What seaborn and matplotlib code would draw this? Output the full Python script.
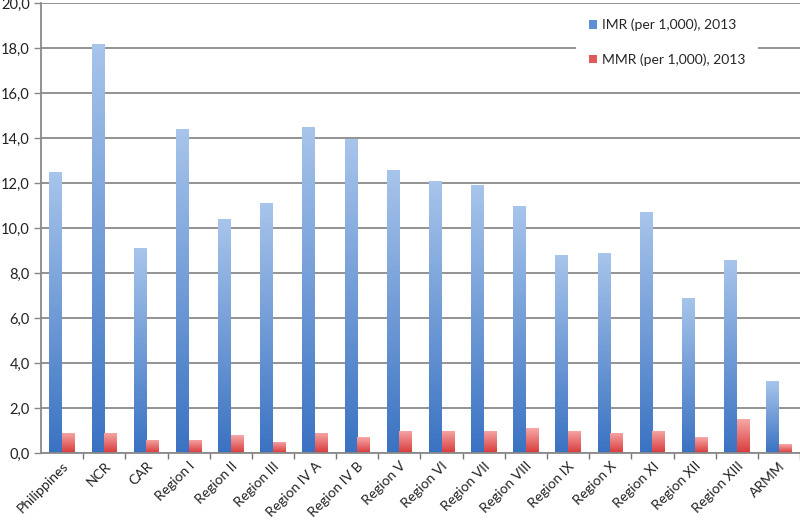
import numpy as np
import pandas as pd
import matplotlib
matplotlib.use("Agg")
import matplotlib.pyplot as plt
import seaborn as sns
from matplotlib.patches import Patch
from matplotlib.colors import LinearSegmentedColormap

regions = ["Philippines", "NCR", "CAR", "Region I", "Region II", "Region III",
           "Region IV A", "Region IV B", "Region V", "Region VI", "Region VII",
           "Region VIII", "Region IX", "Region X", "Region XI", "Region XII",
           "Region XIII", "ARMM"]
imr = [12.5, 18.2, 9.1, 14.4, 10.4, 11.1, 14.5, 13.95, 12.6, 12.1, 11.9,
       11.0, 8.8, 8.9, 10.7, 6.9, 8.6, 3.2]
mmr = [0.9, 0.9, 0.6, 0.6, 0.8, 0.5, 0.9, 0.7, 1.0, 1.0, 1.0,
       1.1, 1.0, 0.9, 1.0, 0.7, 1.5, 0.4]
series = ["IMR (per 1,000), 2013", "MMR (per 1,000), 2013"]
yticks = [0, 2, 4, 6, 8, 10, 12, 14, 16, 18, 20]

df = pd.DataFrame({
    "region": regions * 2,
    "value": imr + mmr,
    "series": [series[0]] * len(regions) + [series[1]] * len(regions),
})

sns.set_style("white")
plt.rcParams["font.family"] = ["Lato", "DejaVu Sans"]

fig = plt.figure(figsize=(8.0, 5.23), dpi=100)
ax = fig.add_axes([41 / 800, 1 - 453 / 523, 759 / 800, 450 / 523])

blue_mid = "#5B8FD6"
red_mid = "#E86A6A"
sns.barplot(data=df, x="region", y="value", hue="series",
            palette=[blue_mid, red_mid], width=0.6, ax=ax, legend=False,
            saturation=1, edgecolor="none")

cmaps = {
    0: LinearSegmentedColormap.from_list("b", ["#3A72C2", "#A8C5EB"]),
    1: LinearSegmentedColormap.from_list("r", ["#D83A3A", "#F7A8A8"]),
}
grad = np.linspace(0, 1, 256).reshape(-1, 1)
bars = [p for p in ax.patches]
n = len(regions)
for i, p in enumerate(bars):
    h = p.get_height()
    if h <= 0:
        continue
    k = 0 if i < n else 1
    x0 = p.get_x()
    w = p.get_width()
    im = ax.imshow(grad, cmap=cmaps[k], aspect="auto", origin="lower",
                   extent=[x0, x0 + w, 0, h], zorder=2, interpolation="bilinear")
    im.set_clip_path(p)
    p.set_facecolor("none")

ax.set_xlim(-0.5, n - 0.5)
ax.set_ylim(0, 20)
ax.set_yticks(yticks)
ax.set_yticklabels([f"{v:.1f}".replace(".", ",") for v in yticks])
ax.yaxis.grid(True, color="#8A8A8A", linewidth=1.3)
ax.set_axisbelow(True)
ax.set_xlabel("")
ax.set_ylabel("")

ax.set_xticks(np.arange(n))
ax.set_xticklabels(regions, rotation=45, ha="right", rotation_mode="anchor",
                   fontsize=10, color="#222222")
ax.tick_params(axis="x", length=0, pad=5)
ax.set_xticks(np.arange(n) + 0.5, minor=True)
ax.tick_params(axis="x", which="minor", length=4, color="#777777", width=1,
               direction="out", bottom=True)
ax.tick_params(axis="y", length=5, color="#888888", width=1, direction="out",
               labelsize=10.5, labelcolor="#222222", left=True, pad=3)

for s in ["top", "right"]:
    ax.spines[s].set_visible(False)
for s in ["left", "bottom"]:
    ax.spines[s].set_color("#8A8A8A")
    ax.spines[s].set_linewidth(1.3)

handles = [Patch(facecolor="#5B8FD6", edgecolor="none"),
           Patch(facecolor="#E05A5A", edgecolor="none")]
leg = ax.legend(handles, series, loc="upper left",
                bbox_to_anchor=(576 / 800, 1 - 6 / 523), bbox_transform=fig.transFigure,
                frameon=True, fancybox=False, facecolor="white", edgecolor="white",
                framealpha=1, fontsize=10, handlelength=0.6, handleheight=0.6,
                handletextpad=0.4, labelspacing=1.6, borderpad=0.9,
                borderaxespad=0)
leg.get_frame().set_linewidth(0)
leg.set_zorder(5)

fig.savefig("out.png", dpi=100)
